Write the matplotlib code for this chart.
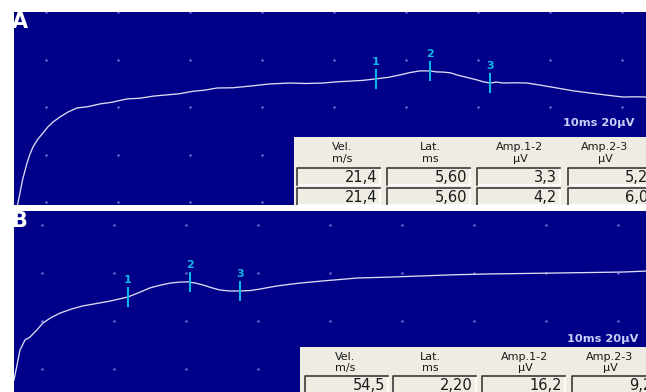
import numpy as np
import matplotlib
matplotlib.use("Agg")
import matplotlib.pyplot as plt

# ---- recorded traces (time in ms, amplitude in uV) ----
trace_a_t = [0.2, 0.42, 0.69, 1.2, 1.81, 2.2, 2.64, 3.3, 4.03, 4.7, 5.42, 6.39, 7.5, 8.75,
             10.2, 11.94, 13.6, 15.69, 17.5, 19.4, 21.25, 23.0, 24.8, 26.5, 28.19, 30.4,
             32.78, 35.5, 38.33, 40.5, 42.92, 44.8, 46.67, 48.4, 50.14, 52.0, 53.61, 55.0,
             56.39, 57.78, 58.6, 59.58, 60.6, 61.53, 63.0, 64.31, 65.2, 66.11, 67.0, 67.92,
             69.6, 71.25, 73.3, 75.42, 77.7, 80.0, 82.3, 84.58, 86.2, 87.78]
trace_a_v = [-5.0, -2.1, 1.7, 9.5, 16.4, 20.0, 23.2, 26.4, 29.1, 31.6, 33.7, 35.8, 37.9, 39.6,
             40.1, 41.3, 42.0, 43.4, 43.7, 44.6, 45.1, 45.6, 46.6, 47.1, 48.0, 48.1,
             48.8, 49.7, 50.1, 49.9, 50.1, 50.6, 50.9, 51.2, 51.8, 52.5, 53.5, 54.5,
             55.2, 55.2, 54.8, 54.7, 54.4, 53.5, 52.4, 51.4, 50.6, 50.1, 50.5, 50.1,
             50.2, 50.1, 49.1, 48.0, 46.8, 45.9, 45.0, 44.2, 44.3, 44.2]

trace_b_t = [0.0, 0.42, 0.83, 1.53, 2.22, 3.19, 4.03, 5.2, 6.39, 8.0, 9.58, 11.5, 13.33,
             15.83, 17.4, 18.89, 20.3, 21.67, 23.0, 24.17, 25.2, 26.25, 27.4, 28.61, 30.0,
             31.39, 32.8, 34.17, 35.4, 36.53, 38.1, 39.72, 42.92, 45.3, 47.64, 52.2, 56.81,
             61.5, 66.11, 70.8, 75.42, 80.0, 84.58, 87.78]
trace_b_v = [-4.6, 1.7, 7.9, 12.1, 13.3, 16.3, 19.2, 21.5, 23.3, 25.0, 26.3, 27.3, 28.3,
             30.0, 31.9, 33.8, 34.9, 35.8, 36.2, 36.3, 35.8, 35.0, 33.9, 32.9, 32.5,
             32.5, 32.7, 33.3, 34.0, 34.6, 35.2, 35.8, 36.7, 37.3, 37.9, 38.3, 38.8,
             39.3, 39.6, 39.8, 40.0, 40.2, 40.4, 40.8]

# cursor positions (ms)
marks_a_t = [50.28, 57.78, 66.11]
marks_b_t = [15.83, 24.44, 31.39]
mark_labels = ["1", "2", "3"]

# measurement tables
headers = ["Vel.", "Lat.", "Amp.1-2", "Amp.2-3"]
units = ["m/s", "ms", "µV", "µV"]
col_formats = ["{:.1f}", "{:.2f}", "{:.1f}", "{:.1f}"]
values_a = [[21.4, 5.60, 3.3, 5.2],
            [21.4, 5.60, 4.2, 6.0]]
values_b = [[54.5, 2.20, 16.2, 9.2]]

scale_text = "10ms 20µV"

# ---- styling ----
W, H = 646, 392
BG = "#000088"
TRACE = "#dcdcf2"
DOT = "#8484e6"
CURSOR = "#12b6e6"
PANEL = "#efede3"

fig = plt.figure(figsize=(W / 100, H / 100), dpi=100)
fig.patch.set_facecolor("white")


def px_axes(x0, y0, x1, y1):
    return fig.add_axes([x0 / W, 1 - y1 / H, (x1 - x0) / W, (y1 - y0) / H])


def draw_panel(rect, ylim, t, v, marks, grid_t0, grid_rows, letter, scale_pos):
    ax = px_axes(*rect)
    ax.set_facecolor(BG)
    ax.set_xlim(0, 87.78)
    ax.set_ylim(*ylim)
    for s in ax.spines.values():
        s.set_visible(False)
    ax.set_xticks([])
    ax.set_yticks([])
    gx = grid_t0 + 10 * np.arange(9)
    gxx, gyy = np.meshgrid(gx, grid_rows)
    ax.plot(gxx.ravel(), gyy.ravel(), "s", ms=1.7, color=DOT, mec="none")
    ax.plot(t, v, color=TRACE, lw=0.95, solid_joinstyle="round")
    half = 3.7
    for mt, lab in zip(marks, mark_labels):
        mv = np.interp(mt, t, v)
        ax.plot([mt, mt], [mv - half, mv + half], color=CURSOR, lw=1.5)
        ax.annotate(lab, (mt, mv + half), xytext=(0, 2.5), textcoords="offset points",
                    ha="center", va="bottom", color=CURSOR, fontsize=8,
                    fontweight="bold")
    ax.text(-0.004, 1.0, letter, transform=ax.transAxes, ha="left", va="top",
            color="white", fontsize=15, fontweight="heavy")
    ax.text(scale_pos[0], scale_pos[1], scale_text, transform=ax.transAxes,
            ha="left", va="center", color="#c8d0f8", fontsize=8.2,
            fontweight="bold")
    return ax


def draw_table(rect, box_x, head_x, head_y, rows_y, box_h, values):
    x0, y0, x1, y1 = rect
    ax = px_axes(*rect)
    ax.set_facecolor(PANEL)
    ax.set_xlim(0, x1 - x0)
    ax.set_ylim(y1 - y0, 0)
    ax.axis("off")
    ax.add_patch(plt.Rectangle((0, 0), x1 - x0, y1 - y0, color=PANEL, zorder=0))
    for hx, h, u in zip(head_x, headers, units):
        ax.text(hx, head_y[0], h, ha="center", va="center", fontsize=8, color="#1a1a1a")
        ax.text(hx, head_y[1], u, ha="center", va="center", fontsize=8, color="#1a1a1a")
    bw = 83
    for ry, row in zip(rows_y, values):
        for bx, val, fmt in zip(box_x, row, col_formats):
            ax.plot([bx + bw, bx + bw, bx], [ry, ry + box_h, ry + box_h],
                    color="white", lw=1.2)
            ax.plot([bx, bx, bx + bw], [ry + box_h, ry, ry], color="#3a3a3a", lw=1.2)
            ax.text(bx + bw - 3, ry + box_h / 2 + 0.5, fmt.format(val).replace(".", ","),
                    ha="right", va="center", fontsize=10.5, color="#1a1a1a")
    return ax


# panel A
draw_panel((14, 12, 646, 205), (-1.26, 80.0), trace_a_t, trace_a_v, marks_a_t,
           4.44, [0, 20, 40, 60, 80], "A", (0.869, 0.425))
draw_table((294, 137, 646, 205), [3, 93, 183, 274], [48, 136, 226, 311],
           (10, 22), [31, 51], 17, values_a)

# panel B
draw_panel((14, 211, 646, 392), (-9.58, 65.83), trace_b_t, trace_b_v, marks_b_t,
           3.89, [0, 20, 40, 60], "B", (0.875, 0.293))
draw_table((300, 347, 646, 392), [5, 93, 182, 272], [45, 130, 225, 310],
           (9.5, 21), [29], 17, values_b)

fig.savefig("out.png", dpi=100, facecolor="white")
